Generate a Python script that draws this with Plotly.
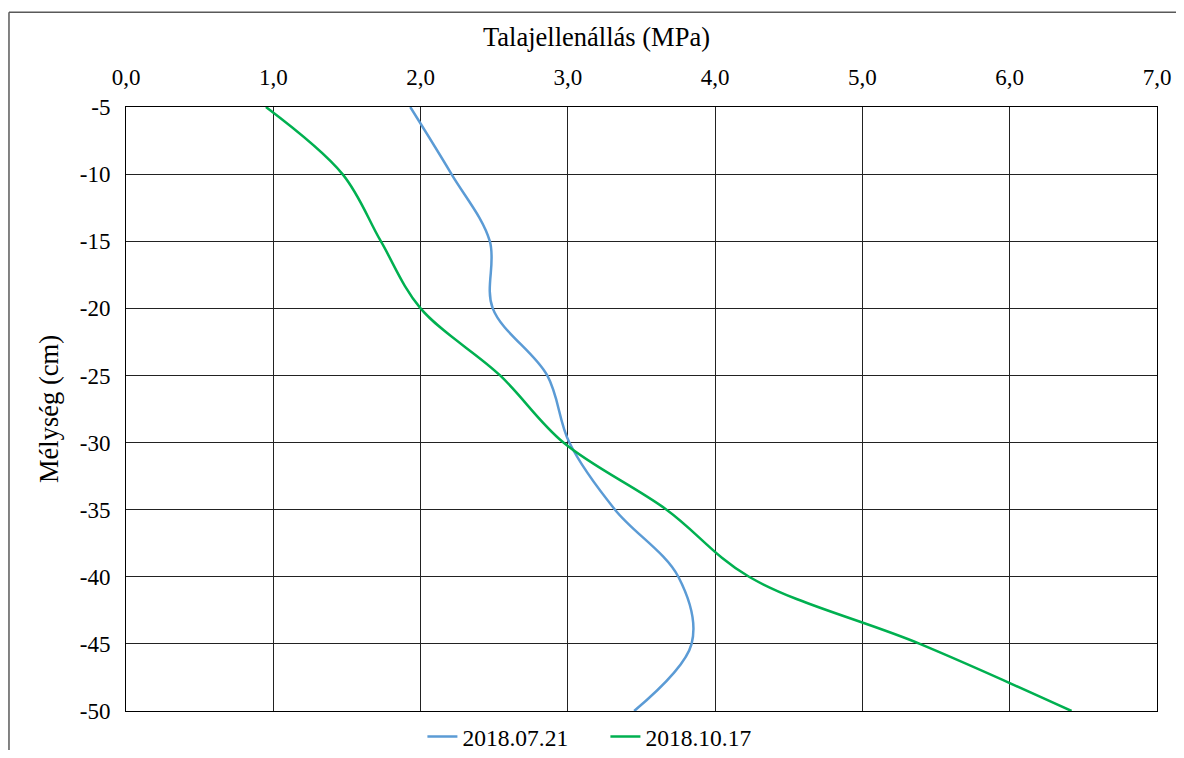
import plotly.graph_objects as go

# mélység (cm) és talajellenállás (MPa)
depth = [-5, -10, -15, -20, -25, -30, -35, -40, -45, -50]
r_0721 = [1.93, 2.21, 2.47, 2.49, 2.86, 3.01, 3.32, 3.75, 3.84, 3.45]
r_1017 = [0.95, 1.47, 1.73, 2.00, 2.54, 2.97, 3.67, 4.23, 5.39, 6.42]

x_ticks = [0, 1, 2, 3, 4, 5, 6, 7]
x_ticktext = ["0,0", "1,0", "2,0", "3,0", "4,0", "5,0", "6,0", "7,0"]
y_ticks = [-5, -10, -15, -20, -25, -30, -35, -40, -45, -50]
y_ticktext = ["-5", "-10", "-15", "-20", "-25", "-30", "-35", "-40", "-45", "-50"]

FONT = "Liberation Serif"
tick_font = dict(family=FONT, size=23, color="black")
title_font = dict(family=FONT, size=26.5, color="black")

fig = go.Figure()
fig.add_trace(go.Scatter(
    x=r_0721, y=depth, name="2018.07.21", mode="lines",
    line=dict(color="#5B9BD5", width=2.5, shape="spline", smoothing=1.0),
))
fig.add_trace(go.Scatter(
    x=r_1017, y=depth, name="2018.10.17", mode="lines",
    line=dict(color="#00B050", width=2.5, shape="spline", smoothing=1.0),
))

# az oldal body-margója 8 px, ezért a méret 1168x742
fig.update_layout(
    width=1168, height=742,
    paper_bgcolor="white", plot_bgcolor="white",
    font=dict(family=FONT, size=23, color="black"),
    margin=dict(l=118, r=19, t=99, b=39),
    showlegend=True,
    legend=dict(orientation="h", x=0.465, xanchor="center",
                yref="container", y=0.018, yanchor="middle",
                entrywidth=138, font=dict(family=FONT, size=23.5, color="black"),
                traceorder="normal"),
    xaxis=dict(
        side="top", range=[0, 7], tickvals=x_ticks, ticktext=x_ticktext,
        tickfont=tick_font, ticklabelstandoff=12, automargin=False,
        showgrid=True, gridcolor="#222222", gridwidth=1,
        showline=True, linecolor="black", linewidth=1, mirror=True,
        zeroline=False, ticks="",
    ),
    yaxis=dict(
        range=[-50, -5], tickvals=y_ticks, ticktext=y_ticktext,
        tickfont=tick_font, ticklabelstandoff=10, automargin=False,
        showgrid=True, gridcolor="#222222", gridwidth=1,
        showline=True, linecolor="black", linewidth=1, mirror=True,
        zeroline=False, ticks="",
        title=dict(text="Mélység (cm)", font=title_font, standoff=13),
    ),
    annotations=[
        dict(text="Talajellenállás (MPa)", xref="paper", yref="paper",
             x=0.456, y=1.116, xanchor="center", yanchor="middle",
             showarrow=False, font=title_font),
    ],
    shapes=[
        dict(type="line", xref="paper", yref="paper", x0=-0.1135, x1=1.05, y0=1.157, y1=1.157,
             line=dict(color="#595959", width=1.5)),
        dict(type="line", xref="paper", yref="paper", x0=-0.1135, x1=-0.1135, y0=1.157, y1=-0.1,
             line=dict(color="#595959", width=1.5)),
    ],
)

fig.write_html("out.html")
